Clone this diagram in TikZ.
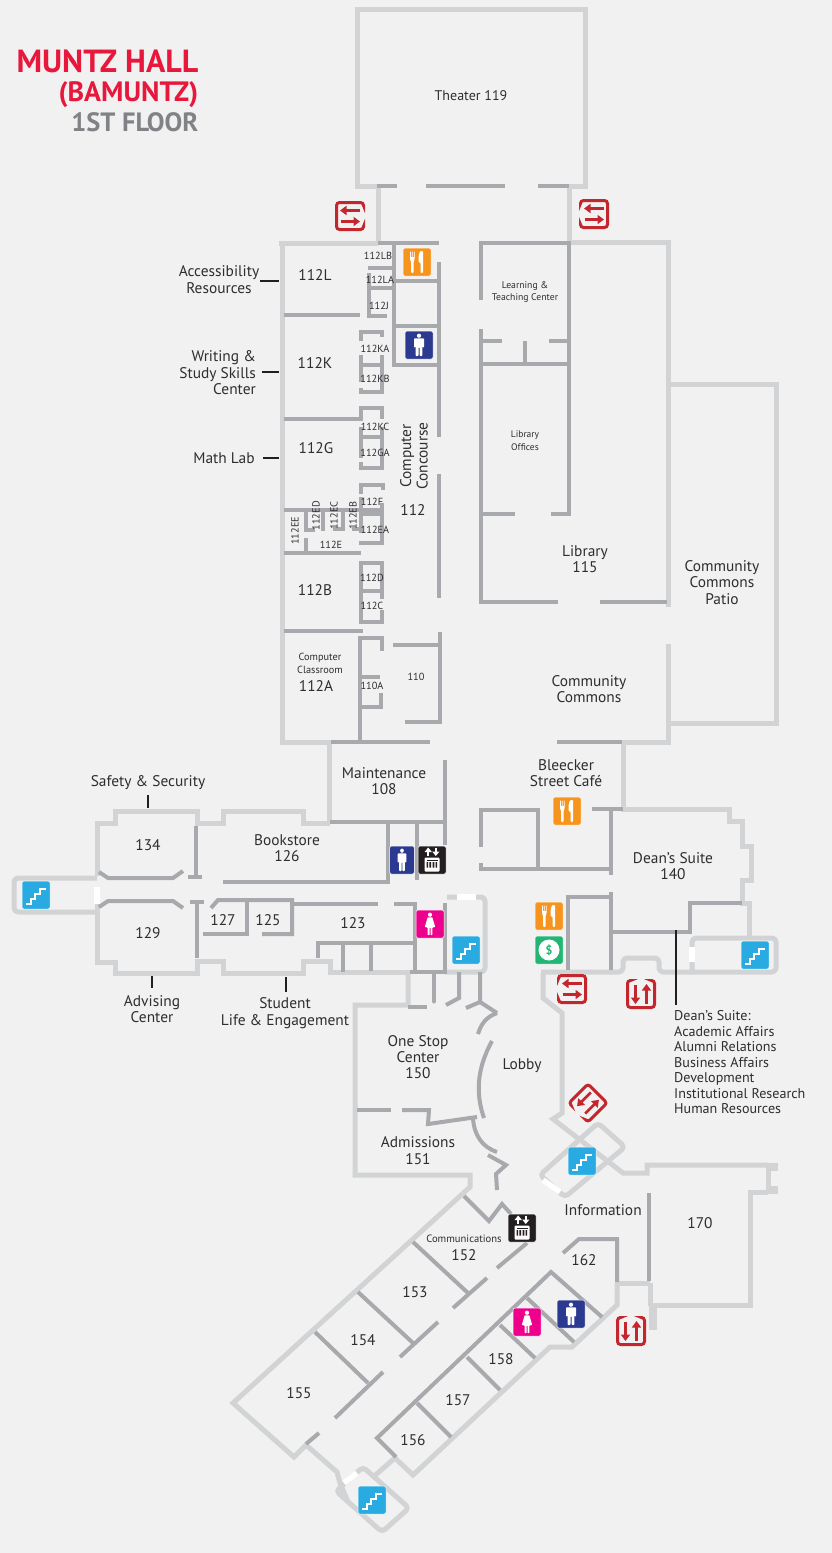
\documentclass[tikz,border=0pt]{standalone}
\usepackage{fontspec}
\setmainfont{PT Sans}
\usetikzlibrary{arrows.meta}
\definecolor{bgc}{HTML}{F1F1F1}
\definecolor{wlight}{HTML}{D1D3D4}
\definecolor{wdark}{HTML}{A7A9AC}
\definecolor{txt}{HTML}{2E2E30}
\definecolor{ttlred}{HTML}{E8183C}
\definecolor{ttlgrey}{HTML}{808285}
\definecolor{exitred}{HTML}{C4262E}
\definecolor{icblue}{HTML}{29ABE2}
\definecolor{icnavy}{HTML}{2B3990}
\definecolor{icpink}{HTML}{EC008C}
\definecolor{icorange}{HTML}{F7941D}
\definecolor{icblack}{HTML}{231F20}
\definecolor{icgreen}{HTML}{22B573}
\tikzset{
  wl/.style={draw=wlight,line width=5pt,line cap=butt,line join=miter},
  wd/.style={draw=wdark,line width=4pt,line cap=butt,line join=miter},
  wlr/.style={draw=wlight,line width=5pt,line join=round,rounded corners=4pt},
  door/.style={draw=white,line width=5.5pt},
  lead/.style={draw=icblack,line width=1.6pt},
  rm/.style={text=txt,font=\fontsize{15.4}{16.4}\selectfont,align=center,inner sep=0pt,yshift=-1pt},
  sm/.style={text=txt,font=\fontsize{10.3}{12.4}\selectfont,align=center,inner sep=0pt,yshift=-.7pt},
  md/.style={text=txt,font=\fontsize{14.1}{15.45}\selectfont,align=left,inner sep=0pt},
  ttl/.style={font=\bfseries,align=right,inner sep=0pt,anchor=east},
  tile/.style={rounded corners=1.5pt,draw=white,line width=.5pt},
  stairicon/.pic={
    \path[tile,fill=icblue] (-14,-14) rectangle (14,14);
    \draw[white,line width=2.2pt,line join=miter] (-10,9)--(-5,9)--(-5,4)--(-1,4)--(-1,-1)--(4,-1)--(4,-6)--(10,-6);
  },
  menicon/.pic={
    \path[tile,fill=icnavy] (-14,-14) rectangle (14,14);
    \fill[white] (0,-9.3) circle (2.1);
    \fill[white,rounded corners=.8pt] (-5,-6.6)--(5,-6.6)--(5,2.5)--(3.6,2.5)--(3.3,-2)--(3.3,11)--(.5,11)--(.5,2)--(-.5,2)--(-.5,11)--(-3.3,11)--(-3.3,-2)--(-3.6,2.5)--(-5,2.5)--cycle;
  },
  womenicon/.pic={
    \path[tile,fill=icpink] (-14,-14) rectangle (14,14);
    \fill[white] (0,-9.3) circle (2.1);
    \fill[white,rounded corners=.5pt] (-2.4,-6.6)--(2.4,-6.6)--(5.2,3)--(2.4,3.5)--(2.4,11)--(.5,11)--(.5,3.5)--(-.5,3.5)--(-.5,11)--(-2.4,11)--(-2.4,3.5)--(-5.2,3)--cycle;
  },
  foodicon/.pic={
    \path[tile,fill=icorange] (-14,-14) rectangle (14,14);
    \fill[white] (-7,-10.5) rectangle (-6.2,-4) (-5.1,-10.5) rectangle (-4.3,-4) (-3.2,-10.5) rectangle (-2.4,-4);
    \fill[white,rounded corners=1pt] (-7,-5)--(-2.4,-5)--(-2.4,-2)--(-3.5,-.5)--(-3.5,11)--(-5.9,11)--(-5.9,-.5)--(-7,-2)--cycle;
    \fill[white,rounded corners=1pt] (3,-11)--(6.2,-11)--(6.2,11)--(3.6,11)--(3.6,.5)--(1.6,.5)--(1.6,-6)--cycle;
  },
  lifticon/.pic={
    \path[tile,fill=icblack] (-14,-14) rectangle (14,14);
    \draw[white,line width=1.7pt,-{Stealth[length=4.5pt,width=7pt,inset=0pt]}] (-3.8,-4)--(-3.8,-12.5);
    \draw[white,line width=1.7pt,-{Stealth[length=4.5pt,width=7pt,inset=0pt]}] (3.8,-12.5)--(3.8,-4);
    \fill[white,rounded corners=1pt] (-7.5,-2.5)--(7.5,-2.5)--(7.5,11.5)--(-7.5,11.5)--cycle;
    \fill[icblack] (-5.5,.3) rectangle (5.5,1.1);
    \fill[icblack] (-5.5,2.1) rectangle (-3.9,7.5) (-2.6,2.1) rectangle (-1,7.5) (.7,2.1) rectangle (2.3,7.5) (3.6,2.1) rectangle (5.2,7.5);
  },
  exiticon/.pic={
    \draw[exitred,line width=3pt,rounded corners=3pt,line cap=round]
      (-11.5,-13.5)--(-13.5,-13.5)--(-13.5,13.5)--(13.5,13.5)--(13.5,-13.5)--(11.5,-13.5);
    \draw[exitred,line width=2.6pt,-{Stealth[length=6.5pt,width=9pt,inset=0pt]}] (-5.5,-9.5)--(-5.5,10);
    \draw[exitred,line width=2.6pt,-{Stealth[length=6.5pt,width=9pt,inset=0pt]}] (5.5,9.5)--(5.5,-10);
  }
}
\begin{document}
\begin{tikzpicture}[x=1pt,y=-1pt]
\useasboundingbox (0,0) rectangle (832,1553);
\fill[bgc] (0,0) rectangle (832,1553);

% ---------- outer light walls, north ----------
\draw[wl] (378,243)--(378,186)--(357,186)--(357,9)--(585,9)--(585,186)--(569,186)--(569,241);
\draw[wl] (279,243)--(378,243);
\draw[wl] (282,243)--(282,743);
\draw[wl] (280,742)--(331,742);
\draw[wl] (329,742)--(329,822);
\draw[wl] (567,242)--(668,242)--(668,607);
\draw[wl] (668,384)--(776,384)--(776,723)--(668,723);
\draw[wl] (668,644)--(668,742)--(621,742);
\draw[wl] (623,742)--(623,809)--(729,809)--(729,821)--(742,821)--(742,846)--(751,846)--(751,880)--(742,880)--(742,903)--(749,903)--(749,938);

% ---------- outer light walls, west ----------
\draw[wl] (97,876)--(97,823)--(115,823)--(115,811)--(197,811)--(197,823)--(223,823)--(223,811)--(303,811)--(303,823)--(330,823);
\draw[wl] (97,900)--(97,962)--(115,962)--(115,973)--(197,973)--(197,961)--(223,961)--(223,973)--(303,973)--(303,961)--(330,961)--(330,972)--(408,972);
\draw[wlr] (97,878)--(14,878)--(14,912)--(97,912);
\draw[wlr] (447,897)--(485,897)--(485,972)--(445,972);
\draw[wl] (408,970)--(408,1005)--(355,1005)--(355,1175)--(470,1175)--(470,1187)--(233,1403)--(294,1457)--(306,1445)--(337,1472)--(340,1483)--(348,1502);
\draw[wlr] (336,1491)--(363,1467)--(409,1508)--(382,1532)--cycle;
\draw[wl] (396,1457)--(372,1478);
\draw[wl] (395,1458)--(413,1475)--(550,1347)--(572,1347)--(617,1305)--(617,1283);
\draw[wl] (615,1283)--(650,1283);

% ---------- outer light walls, east ----------
\draw[wl] (543,973)--(543,998)--(562,1013)--(562,1113)--(553,1119)--(623,1173)--(647,1173)--(647,1165)--(768,1165);
\draw[wl] (768,1165)--(768,1192);
\draw[draw=wlight,line width=8pt] (766,1167)--(778,1167);
\draw[draw=wlight,line width=8pt] (766,1190)--(778,1190);
\draw[wl] (768,1192)--(750,1192)--(750,1305)--(650,1305);
\draw[wl] (650,1283)--(650,1306);
\draw[draw=wlight,line width=8pt] (653,1305)--(653,1330);
\draw[wlr] (541,972)--(623,972)--(623,958)--(659,958)--(659,972)--(692,972);
\draw[wlr] (692,972)--(692,938)--(776,938)--(776,972)--(692,972);
\draw[wlr] (540,1175)--(598,1123)--(625,1147)--(565,1197)--cycle;

% ---------- doors ----------
\draw[door] (97,887)--(97,904);
\draw[door] (457,897)--(476,897);
\draw[door] (692,947)--(692,962);
\draw[door] (543,1180)--(560,1192);
\draw[door] (344,1483)--(357,1473);

% ---------- dark walls, block 112 ----------
\draw[wd] (378,243)--(439,243);
\draw[wd] (394,243)--(394,366);
\draw[wd] (392,365)--(439,365);
\draw[wd] (439,262)--(439,437);
\draw[wd] (439,474)--(439,598);
\draw[wd] (394,281)--(439,281);
\draw[wd] (394,326)--(439,326);
\draw[wd] (368,268)--(394,268);
\draw[wd] (369,273)--(369,316)--(387,316);
\draw[wd] (369,288)--(394,288);
\draw[wd] (284,315)--(360,315);
\draw[wd] (361,341)--(361,332)--(382,332)--(382,337);
\draw[wd] (361,355)--(361,382);
\draw[wd] (361,365)--(382,365);
\draw[wd] (382,355)--(382,394);
\draw[wd] (361,388)--(361,392)--(384,392);
\draw[wd] (284,419)--(361,419)--(361,408)--(382,408)--(382,419);
\draw[wd] (361,427)--(361,458);
\draw[wd] (361,437)--(382,437);
\draw[wd] (382,427)--(382,470);
\draw[wd] (361,462)--(361,468)--(384,468);
\draw[wd] (361,494)--(361,485)--(383,485)--(383,490);
\draw[wd] (284,510)--(382,510);
\draw[wd] (382,503)--(382,545);
\draw[wd] (361,497)--(361,533);
\draw[wd] (361,514)--(382,514);
\draw[wd] (359,543)--(384,543);
\draw[wd] (306,510)--(306,530)--(315,530);
\draw[wd] (323,510)--(323,531);
\draw[wd] (333,529)--(343,529)--(343,510);
\draw[wd] (352,529)--(361,529);
\draw[wd] (306,538)--(306,553);
\draw[wd] (284,553)--(361,553);
\draw[wd] (382,599)--(382,563)--(361,563)--(361,622)--(384,622);
\draw[wd] (382,610)--(382,622);
\draw[wd] (361,591)--(382,591);
\draw[wd] (284,631)--(363,631);
\draw[wd] (360,742)--(360,638)--(382,638)--(382,651);
\draw[wd] (360,677)--(380,677);
\draw[wd] (381,693)--(381,707)--(360,707);
\draw[wd] (440,632)--(440,724);
\draw[wd] (393,645)--(440,645);
\draw[wd] (405,722)--(440,722);
\draw[wd] (331,742)--(430,742);

% ---------- dark walls, theatre / library ----------
\draw[wd] (377,186)--(397,186);
\draw[wd] (426,186)--(505,186);
\draw[wd] (538,186)--(569,186);
\draw[wd] (481,300)--(481,243)--(569,243)--(569,514)--(551,514);
\draw[wd] (481,329)--(481,604);
\draw[wd] (481,341)--(502,341);
\draw[wd] (549,341)--(569,341);
\draw[wd] (525,341)--(525,364);
\draw[wd] (481,364)--(569,364);
\draw[wd] (481,514)--(515,514);
\draw[wd] (481,602)--(558,602);
\draw[wd] (600,602)--(667,602);
\draw[wd] (557,742)--(622,742);

% ---------- dark walls, south of corridor ----------
\draw[wd] (99,872)--(108,878)--(173,878)--(183,871);
\draw[wd] (99,907)--(108,901)--(173,901)--(183,908);
\draw[wd] (196,826)--(196,877);
\draw[wd] (188,877)--(202,877);
\draw[wd] (197,901)--(197,958);
\draw[wd] (190,902)--(204,902);
\draw[wd] (223,882)--(388,882)--(388,822);
\draw[wd] (330,822)--(445,822);
\draw[wd] (417,822)--(417,880);
\draw[wd] (445,760)--(445,845);
\draw[wd] (211,908)--(218,900)--(292,900)--(292,934)--(262,934);
\draw[wd] (247,900)--(247,934);
\draw[wd] (203,934)--(249,934);
\draw[wd] (292,904)--(378,904);
\draw[wd] (394,904)--(415,904)--(415,972);
\draw[wd] (318,958)--(318,943)--(415,943);
\draw[wd] (343,943)--(343,972);
\draw[wd] (371,943)--(371,971);
\draw[wd] (410,972)--(447,972);
\draw[wd] (445,903)--(445,972);

% ---------- dark walls, lobby ----------
\draw[wd] (408,1007)--(427,1007);
\draw[wd] (434,972)--(434,1000);
\draw[wd,line cap=round] (434,1001)--(434,1001.5);
\draw[wd] (459,972)--(459,998)--(446,1005);
\draw[wd] (480,972)--(480,1002)--(497,1013);
\draw[wd] (480,1002)--(466,1008);
\draw[wd] (497,1013) .. controls (486,1017) and (481,1024) .. (478,1034);
\draw[wd] (492,1041) .. controls (476,1070) and (476,1095) .. (484,1118);
\draw[wd] (357,1110)--(391,1110);
\draw[wd] (402,1110)--(429,1110)--(428,1124)--(477,1117);
\draw[wd] (473,1118) .. controls (474,1135) and (482,1147) .. (497,1152);
\draw[wd] (488,1155)--(506,1165)--(496,1174)--(497,1190);
\draw[wd] (464,1196)--(489,1221)--(502,1204)--(511,1214);

% ---------- dark walls, east ----------
\draw[wd] (481,847)--(481,810)--(538,810)--(538,869);
\draw[wd] (481,863)--(481,869)--(611,869);
\draw[wd] (592,809)--(623,809);
\draw[wd] (611,809)--(611,875);
\draw[wd] (611,892)--(611,970);
\draw[wd] (568,970)--(568,897)--(611,897);
\draw[wd] (611,932)--(690,932)--(690,903)--(742,903);
\draw[wd] (649,1193)--(649,1281);
\draw[wd] (563,1253)--(579,1239)--(617,1239)--(617,1282);

% ---------- dark walls, south wing ----------
\draw[wd] (413,1242)--(468,1293);
\draw[wd] (453,1308)--(487,1278);
\draw[wd] (497,1268)--(527,1243);
\draw[wd] (358,1292)--(413,1343);
\draw[wd] (400,1357)--(438,1322);
\draw[wd] (315,1332)--(368,1383);
\draw[wd] (335,1418)--(383,1372);
\draw[wd] (306,1444)--(319,1433);
\draw[wd] (602,1317)--(551,1272)--(377,1438)--(396,1457);
\draw[wd] (527,1298)--(574,1342);
\draw[wd] (500,1325)--(535,1358);
\draw[wd] (467,1357)--(500,1390);
\draw[wd] (417,1403)--(451,1437);

% ---------- icons ----------
\pic at (36,895) {stairicon};
\pic at (466,950) {stairicon};
\pic at (755,955) {stairicon};
\pic at (582,1161) {stairicon};
\pic at (372,1500) {stairicon};
\pic at (417,262) {foodicon};
\pic at (567,811) {foodicon};
\pic at (549,916) {foodicon};
\pic at (419,345) {menicon};
\pic[xscale=.88] at (402,860) {menicon};
\pic at (571,1314) {menicon};
\pic at (430,924) {womenicon};
\pic at (527,1322) {womenicon};
\pic at (432,860) {lifticon};
\pic at (522,1228) {lifticon};
\path[tile,fill=icgreen] (535,936) rectangle (563,964);
\fill[white] (549,950) circle (10.5);
\node[inner sep=0pt,text=icgreen,font=\bfseries\fontsize{12}{12}\selectfont] (money) at (549,950) {\$};
\pic[rotate=-90] at (350,216) {exiticon};
\pic[rotate=90] at (594,214) {exiticon};
\pic[rotate=90] at (572,989) {exiticon};
\pic at (641,994) {exiticon};
\pic at (631,1331) {exiticon};
\pic[rotate=135] at (588,1103) {exiticon};

% ---------- title ----------
\node[ttl,text=ttlred,font=\bfseries\fontsize{32}{32}\selectfont] (t1) at (198.5,61) {MUNTZ HALL};
\node[ttl,text=ttlred,font=\bfseries\fontsize{28}{28}\selectfont] (t2) at (198.5,95) {(BAMUNTZ)};
\node[ttl,text=ttlgrey,font=\bfseries\fontsize{26.5}{27}\selectfont] (t3) at (198.5,122) {1ST FLOOR};

% ---------- room labels ----------
\node[rm,font=\fontsize{14}{16}\selectfont] (r119) at (471,95) {Theater 119};
\node[rm] (r112l) at (315,274) {112L};
\node[rm] (r112k) at (315,362) {112K};
\node[rm] (r112g) at (316,447) {112G};
\node[rm] (r112b) at (315,589) {112B};
\node[rm] (r112a) at (316,685) {112A};
\node[sm] (rcc) at (320,662.5) {Computer\\Classroom};
\node[sm] (s1) at (378,255) {112LB};
\node[sm] (s2) at (380,279) {112LA};
\node[sm] (s3) at (379,305) {112J};
\node[sm] (s4) at (375,348) {112KA};
\node[sm] (s5) at (375,378) {112KB};
\node[sm] (s6) at (375,426) {112KC};
\node[sm] (s7) at (375,452) {112GA};
\node[sm] (s8) at (372,501) {112F};
\node[sm] (s9) at (375,529) {112EA};
\node[sm] (s10) at (372,577) {112D};
\node[sm] (s11) at (372,605) {112C};
\node[sm] (s12) at (372,685) {110A};
\node[sm] (s13) at (416,676) {110};
\node[sm] (s14) at (331,544) {112E};
\node[sm,rotate=90] (s15) at (295,530) {112EE};
\node[sm,rotate=90] (s16) at (316,515) {112ED};
\node[sm,rotate=90] (s17) at (334,515) {112EC};
\node[sm,rotate=90] (s18) at (353,515) {112EB};
\node[rm,rotate=90,xshift=1pt,yshift=1pt] (cc) at (415,456) {Computer\\Concourse};
\node[rm] (r112) at (413,509) {112};
\node[rm] (acc) at (219,278.5) {Accessibility\\Resources};
\node[rm,anchor=east,align=right] (wri) at (256,372) {Writing \&\\Study Skills\\Center};
\node[rm] (mat) at (224,457) {Math Lab};
\node[rm] (saf) at (148,782) {Safety \& Security};
\node[rm] (adv) at (152,1008) {Advising\\Center};
\node[rm] (stu) at (285,1012) {Student\\Life \& Engagement};
\node[rm] (r134) at (148,844) {134};
\node[rm] (r129) at (148,932) {129};
\node[rm] (r126) at (287,847) {Bookstore\\126};
\node[rm] (r127) at (223,919) {127};
\node[rm] (r125) at (268,919) {125};
\node[rm] (r123) at (353,922) {123};
\node[rm] (r108) at (384,780) {Maintenance\\108};
\node[rm] (cafe) at (566,772) {Bleecker\\Street Café};
\node[rm] (r140) at (673,865) {Dean’s Suite\\140};
\node[rm] (comm) at (589,688) {Community\\Commons};
\node[rm] (patio) at (722,581.5) {Community\\Commons\\Patio};
\node[rm] (r115) at (585,558) {Library\\115};
\node[sm,font=\fontsize{9.5}{13}\selectfont] (off) at (525,439.5) {Library\\Offices};
\node[sm,font=\fontsize{9.7}{12}\selectfont] (ltc) at (525,291) {Learning \&\\Teaching Center};
\node[rm] (r150) at (418,1056) {One Stop\\Center\\150};
\node[rm] (lob) at (522,1065) {Lobby};
\node[rm] (r151) at (418,1149.5) {Admissions\\151};
\node[rm] (inf) at (603,1209) {Information};
\node[rm] (r170) at (700,1222) {170};
\node[sm,font=\fontsize{10.6}{12}\selectfont] (com) at (464,1238) {Communications};
\node[rm] (r152) at (464,1254) {152};
\node[rm] (r153) at (415,1291) {153};
\node[rm] (r154) at (363,1339) {154};
\node[rm] (r155) at (299,1392) {155};
\node[rm] (r156) at (413,1439) {156};
\node[rm] (r157) at (458,1399) {157};
\node[rm] (r158) at (501,1358) {158};
\node[rm] (r162) at (584,1259) {162};
\node[md,anchor=north west] (dsl) at (674,1010.5) {Dean’s Suite:\\Academic Affairs\\Alumni Relations\\Business Affairs\\Development\\Institutional Research\\Human Resources};

% ---------- leaders ----------
\coordinate (a1) at (260,281); \coordinate (a2) at (279,281);
\coordinate (b1) at (262,372); \coordinate (b2) at (279,372);
\coordinate (c1) at (263,458); \coordinate (c2) at (279,458);
\coordinate (d1) at (148,795); \coordinate (d2) at (148,808);
\coordinate (e1) at (152,976); \coordinate (e2) at (152,988);
\coordinate (f1) at (286,977); \coordinate (f2) at (286,992);
\coordinate (g1) at (676,930); \coordinate (g2) at (676,1005);
\foreach \p/\q in {a1/a2,b1/b2,c1/c2,d1/d2,e1/e2,f1/f2,g1/g2} \draw[lead] (\p)--(\q);
\end{tikzpicture}
\end{document}
